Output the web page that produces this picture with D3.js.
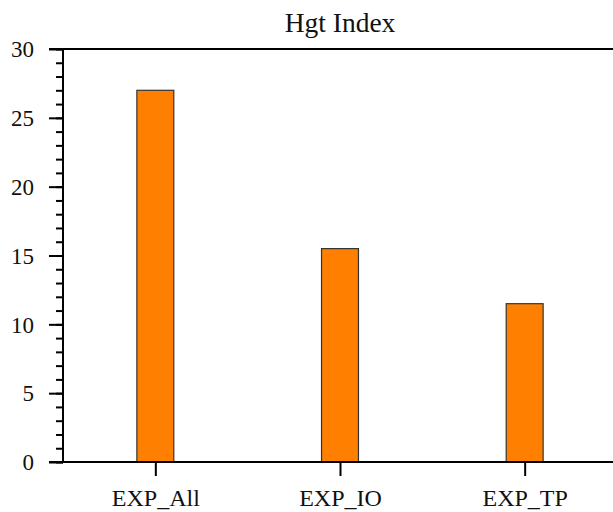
<!DOCTYPE html>
<html>
<head>
<meta charset="utf-8">
<script src="https://cdn.jsdelivr.net/npm/d3@7.9.0/dist/d3.min.js"></script>
<style>
  html, body { margin: 0; padding: 0; background: #fff; }
  svg { display: block; }
  svg text { font-family: "Liberation Serif", "Times New Roman", serif; }
</style>
</head>
<body>
<div id="chart"></div>
<script>
// chart values
const categories = ['EXP_All', 'EXP_IO', 'EXP_TP'];
const values = [27, 15.5, 11.5];
const yMajorTicks = [0, 5, 10, 15, 20, 25, 30];
const chartTitle = 'Hgt Index';

const width = 613;
const height = 512;
const plot = { left: 63, right: 617, top: 49, bottom: 462 };

const svg = d3.select('#chart')
  .append('svg')
  .attr('width', width)
  .attr('height', height);

// x is positional: category i sits at i + 1
const xScale = d3.scaleLinear().domain([0.5, 3.5]).range([plot.left, plot.right]);
const yScale = d3.scaleLinear().domain([0, 30]).range([plot.bottom, plot.top]);
const barWidth = 0.2;

// bars
svg.append('g')
  .selectAll('rect')
  .data(values)
  .join('rect')
  .attr('x', (d, i) => xScale(i + 1 - barWidth / 2))
  .attr('width', xScale(barWidth) - xScale(0))
  .attr('y', d => yScale(d))
  .attr('height', d => yScale(0) - yScale(d))
  .attr('fill', '#ff8000')
  .attr('stroke', '#333')
  .attr('stroke-width', 1.2);

// y axis with minor ticks
const yAxis = svg.append('g')
  .attr('transform', `translate(${plot.left},0)`)
  .call(d3.axisLeft(yScale).tickValues(d3.range(0, 31, 1)).tickSize(7).tickFormat(''));
yAxis.call(g => g.select('.domain').remove());
yAxis.selectAll('line').attr('stroke', '#000').attr('stroke-width', 2);

const yMajor = svg.append('g')
  .attr('transform', `translate(${plot.left},0)`)
  .call(d3.axisLeft(yScale).tickValues(yMajorTicks).tickSize(14).tickPadding(15));
yMajor.select('.domain').remove();
yMajor.selectAll('line').attr('stroke', '#000').attr('stroke-width', 2);
yMajor.selectAll('text')
  .attr('font-size', 23)
  .attr('fill', '#111')
  .attr('dy', '0.34em');

// x axis
const xAxis = svg.append('g')
  .attr('transform', `translate(0,${plot.bottom})`)
  .call(d3.axisBottom(xScale)
    .tickValues(categories.map((c, i) => i + 1))
    .tickFormat((d, i) => categories[i])
    .tickSize(14)
    .tickPadding(14));
xAxis.select('.domain').remove();
xAxis.selectAll('line').attr('stroke', '#000').attr('stroke-width', 2);
xAxis.selectAll('text')
  .attr('font-size', 24)
  .attr('fill', '#111')
  .attr('dy', '0.68em');

// frame
const frame = svg.append('g').attr('stroke', '#000').attr('stroke-width', 2).attr('fill', 'none');
frame.append('line').attr('x1', plot.left).attr('x2', plot.left).attr('y1', plot.top).attr('y2', plot.bottom);
frame.append('line').attr('x1', plot.left - 14).attr('x2', plot.right).attr('y1', plot.top).attr('y2', plot.top);
frame.append('line').attr('x1', plot.left - 14).attr('x2', plot.right).attr('y1', plot.bottom).attr('y2', plot.bottom);
frame.append('line').attr('x1', plot.right).attr('x2', plot.right).attr('y1', plot.top).attr('y2', plot.bottom);

// title
svg.append('text')
  .attr('x', (plot.left + plot.right) / 2)
  .attr('y', 32)
  .attr('text-anchor', 'middle')
  .attr('font-size', 27.5)
  .attr('fill', '#111')
  .text(chartTitle);
</script>
</body>
</html>
